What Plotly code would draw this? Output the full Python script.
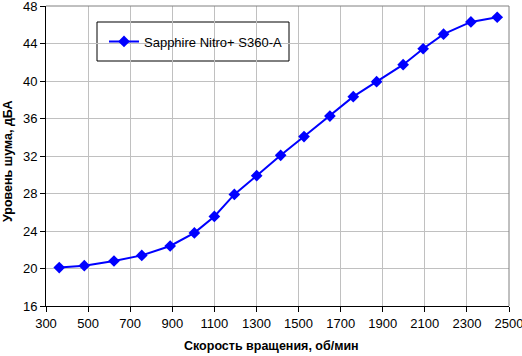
import plotly.graph_objects as go

rpm = [363, 482, 623, 755, 890, 1005, 1100, 1195, 1301, 1415, 1526, 1649, 1760, 1871, 1997, 2092, 2189, 2319, 2444]
noise = [20.1, 20.3, 20.8, 21.4, 22.4, 23.8, 25.55, 27.9, 29.9, 32.07, 34.07, 36.26, 38.33, 39.93, 41.74, 43.44, 45.0, 46.3, 46.8]
x_ticks = [300, 500, 700, 900, 1100, 1300, 1500, 1700, 1900, 2100, 2300, 2500]
y_ticks = [16, 20, 24, 28, 32, 36, 40, 44, 48]
series_name = "Sapphire Nitro+ S360-A"
x_title = "Скорость вращения, об/мин"
y_title = "Уровень шума, дБА"

L, R, T, B = 46, 13, 6, 50
W, H = 522, 356
pw, ph = W - L - R, H - T - B

fig = go.Figure()
fig.add_trace(go.Scatter(
    x=rpm, y=noise, mode="lines+markers", name=series_name,
    line=dict(color="#0000FF", width=2),
    marker=dict(symbol="diamond", size=9, color="#0000FF"),
))

font = "Liberation Sans, Arial, sans-serif"
narrow = "Liberation Sans Narrow, Arial Narrow, Liberation Sans, sans-serif"
fig.update_layout(
    width=W, height=H,
    margin=dict(l=L, r=R, t=T, b=B, autoexpand=False),
    paper_bgcolor="white", plot_bgcolor="white",
    font=dict(family=font, size=12, color="black"),
    showlegend=True,
    legend=dict(x=(104 - L) / pw, y=1 - (41.5 - T) / ph, xanchor="left", yanchor="middle",
                bgcolor="rgba(0,0,0,0)", borderwidth=0,
                font=dict(family=font, size=13, color="black")),
    shapes=[dict(type="rect", xref="paper", yref="paper",
                 x0=(97 - L) / pw, x1=(289 - L) / pw,
                 y0=1 - (61 - T) / ph, y1=1 - (22 - T) / ph,
                 line=dict(color="black", width=1), fillcolor="white", layer="below")],
    annotations=[
        dict(text="<b>" + x_title + "</b>", xref="paper", yref="paper",
             x=(271 - L) / pw, y=-(346 - (H - B)) / ph, xanchor="center", yanchor="middle",
             showarrow=False, font=dict(size=12.5)),
        dict(text="<b>" + y_title + "</b>", xref="paper", yref="paper",
             x=-(L - 8) / pw, y=1 - (162 - T) / ph, xanchor="center", yanchor="middle",
             textangle=-90, showarrow=False, font=dict(size=12.5)),
    ],
)
fig.update_xaxes(
    range=[300, 2500], tickvals=x_ticks, automargin=False, ticklabeloverflow="allow",
    tickfont=dict(family=narrow, size=13),
    showgrid=True, gridcolor="#C0C0C0", gridwidth=1,
    showline=True, linecolor="black", linewidth=1,
    ticks="outside", ticklen=5, tickcolor="black",
    zeroline=False,
)
fig.update_yaxes(
    range=[16, 48], tickvals=y_ticks, automargin=False, ticklabeloverflow="allow",
    tickfont=dict(family=narrow, size=13),
    showgrid=True, gridcolor="#C0C0C0", gridwidth=1,
    showline=True, linecolor="black", linewidth=1,
    ticks="outside", ticklen=5, tickcolor="black",
    zeroline=False,
)
fig.add_shape(type="line", xref="paper", yref="paper", x0=0, x1=1, y0=1, y1=1, line=dict(color="#808080", width=1))
fig.add_shape(type="line", xref="paper", yref="paper", x0=1, x1=1, y0=0, y1=1, line=dict(color="#808080", width=1))

fig.write_html("out.html", config={"displayModeBar": False},
               post_script="document.body.style.margin='0';document.body.style.overflow='hidden';")
